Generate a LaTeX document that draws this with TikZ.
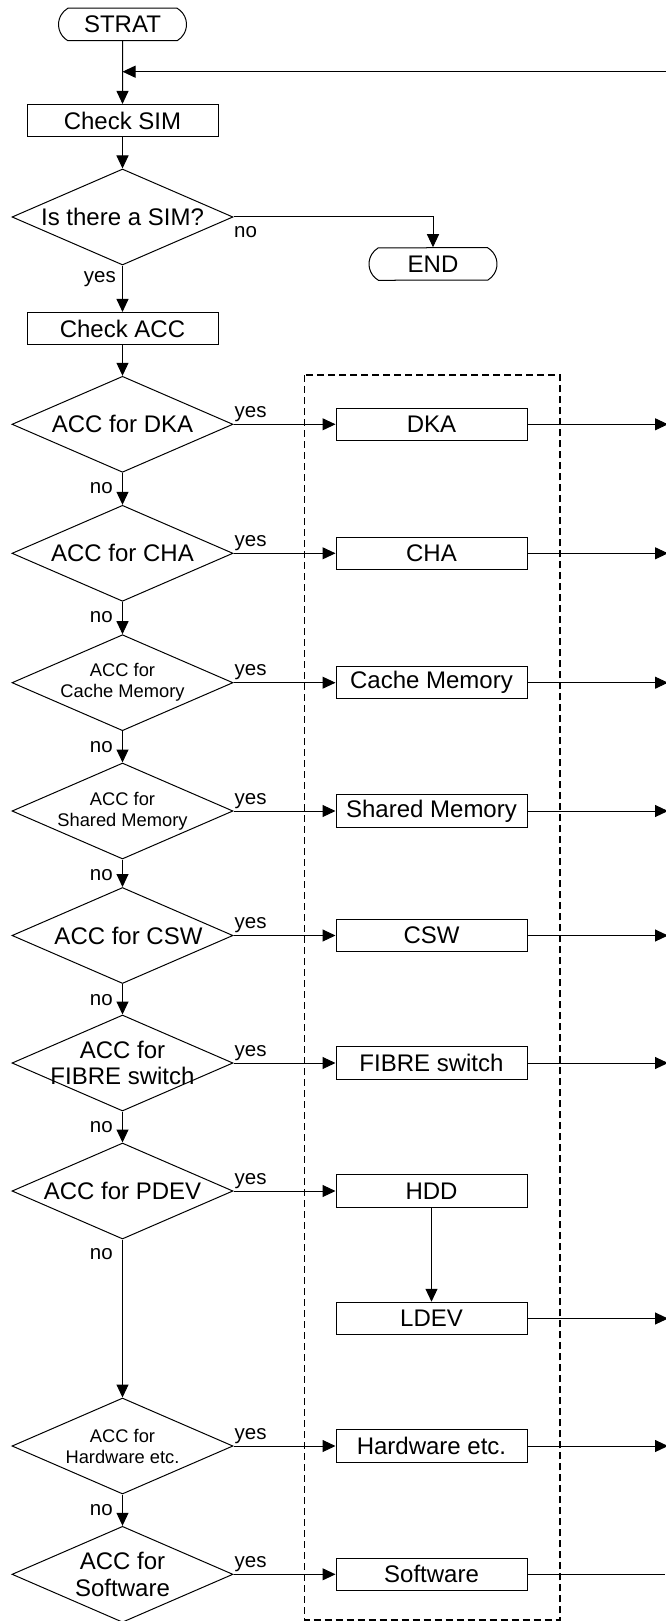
\documentclass[tikz,border=0pt]{standalone}
\usepackage{fontspec}
\setmainfont{Liberation Sans}
\usetikzlibrary{shapes.geometric,shapes.misc,arrows.meta}
\begin{document}
\begin{tikzpicture}[x=1pt,y=-1pt,
  ln/.style={line width=1pt},
  arr/.style={line width=1pt,-{Triangle[length=13pt,width=12pt]}},
  box/.style={draw,line width=1pt,rectangle,minimum width=191pt,minimum height=32.5pt,inner sep=0pt,font=\fontsize{24}{26}\selectfont},
  term/.style={draw,line width=1pt,rounded rectangle,rounded rectangle arc length=120,minimum width=128pt,minimum height=32.5pt,inner sep=0pt,font=\fontsize{24}{26}\selectfont},
  dia/.style={draw,line width=1pt,diamond,minimum width=221pt,minimum height=96pt,inner sep=0pt},
  big/.style={font=\fontsize{24}{26.7}\selectfont,align=center,inner sep=0pt},
  small/.style={font=\fontsize{18.3}{21}\selectfont,align=center,inner sep=0pt},
  lab/.style={font=\fontsize{20.5}{22}\selectfont,inner sep=0pt},
  frame/.style={draw,line width=1.4pt,dash pattern=on 7pt off 4pt}
]
\useasboundingbox (0,0) rectangle (665,1621);

% dashed frame
\draw[frame] (304.5,375) rectangle (559.8,1620);

% top part
\node[term] (strat) at (122.5,24.5) {STRAT};
\coordinate (loopR) at (668,71.7);
\coordinate (join) at (122.5,71.7);
\node[box] (checksim) at (122.5,120.7) {Check SIM};
\node[dia] (sim) at (122.5,217) {};
\node[big] (simt) at (sim.center) {Is there a SIM?};
\node[term] (end) at (433,264) {END};
\node[box] (checkacc) at (122.5,328.7) {Check ACC};

\draw[arr] (strat) -- (checksim);
\draw[arr] (loopR) -- (join);
\draw[arr] (checksim) -- (sim);
\draw[arr] (sim.east) -| (end.north);
\node[lab,anchor=base west] (simno) at (234,237) {no};
\draw[arr] (sim.south) -- (checkacc.north);
\node[lab,anchor=base east] (simyes) at (116,283) {yes};

% decision diamonds
\node[dia] (d1) at (122.5,424.3) {};
\node[big] (d1t) at (d1.center) {ACC for DKA};
\node[dia] (d2) at (122.5,553.3) {};
\node[big] (d2t) at (d2.center) {ACC for CHA};
\node[dia] (d3) at (122.5,682.7) {};
\node[small] (d3t) at (d3.center) {ACC for\\Cache Memory};
\node[dia] (d4) at (122.5,811) {};
\node[small] (d4t) at (d4.center) {ACC for\\Shared Memory};
\node[dia] (d5) at (122.5,935.5) {};
\node[big] (d5t) at ([xshift=6pt]d5.center) {ACC for CSW};
\node[dia] (d6) at (122.5,1063) {};
\node[big] (d6t) at (d6.center) {ACC for\\FIBRE switch};
\node[dia] (d7) at (122.5,1191) {};
\node[big] (d7t) at (d7.center) {ACC for PDEV};
\node[dia] (d8) at (122.5,1446) {};
\node[small] (d8t) at (d8.center) {ACC for\\Hardware etc.};
\node[dia] (d9) at (122.5,1574.3) {};
\node[big] (d9t) at (d9.center) {ACC for\\Software};

\draw[arr] (checkacc) -- (d1);

% result boxes
\node[box] (b1) at (431.5,424.3) {DKA};
\node[box] (b2) at (431.5,553.3) {CHA};
\node[box] (b3) at (431.5,682.7) {Cache Memory};
\node[box] (b4) at (431.5,811) {Shared Memory};
\node[box] (b5) at (431.5,935.5) {CSW};
\node[box] (b6) at (431.5,1063) {FIBRE switch};
\node[box] (b7) at (431.5,1191) {HDD};
\node[box] (b7b) at (431.5,1318.5) {LDEV};
\node[box] (b8) at (431.5,1446) {Hardware etc.};
\node[box] (b9) at (431.5,1574.3) {Software};

% yes arrows
\foreach \d/\b in {d1/b1,d2/b2,d3/b3,d4/b4,d5/b5,d6/b6,d7/b7,d8/b8,d9/b9}{
  \draw[arr] (\d.east) -- (\b.west);
  \node[lab,anchor=base west] at ([xshift=1pt,yshift=7pt]\d.east) {yes};
}

% no arrows
\foreach \a/\b in {d1/d2,d2/d3,d3/d4,d4/d5,d5/d6,d6/d7,d8/d9}{
  \draw[arr] (\a.south) -- (\b.north);
  \node[lab,anchor=base east] at ([xshift=-9.5pt,yshift=-21pt]\a.south) {no};
}
\draw[arr] (d7.south) -- (d8.north);
\node[lab,anchor=base east] (pdevno) at ([xshift=-9.5pt,yshift=-20pt]d7.south) {no};

\draw[arr] (b7) -- (b7b);

% outgoing arrows to the right edge
\foreach \b/\y in {b1/424.3,b2/553.3,b3/682.7,b4/811,b5/935.5,b6/1063,b7b/1318.5,b8/1446}{
  \coordinate (out\b) at (668,\y);
  \draw[arr] (\b.east) -- (out\b);
}
\coordinate (outb9) at (665,1574.3);
\draw[ln] (b9.east) -- (outb9);
\end{tikzpicture}
\end{document}
